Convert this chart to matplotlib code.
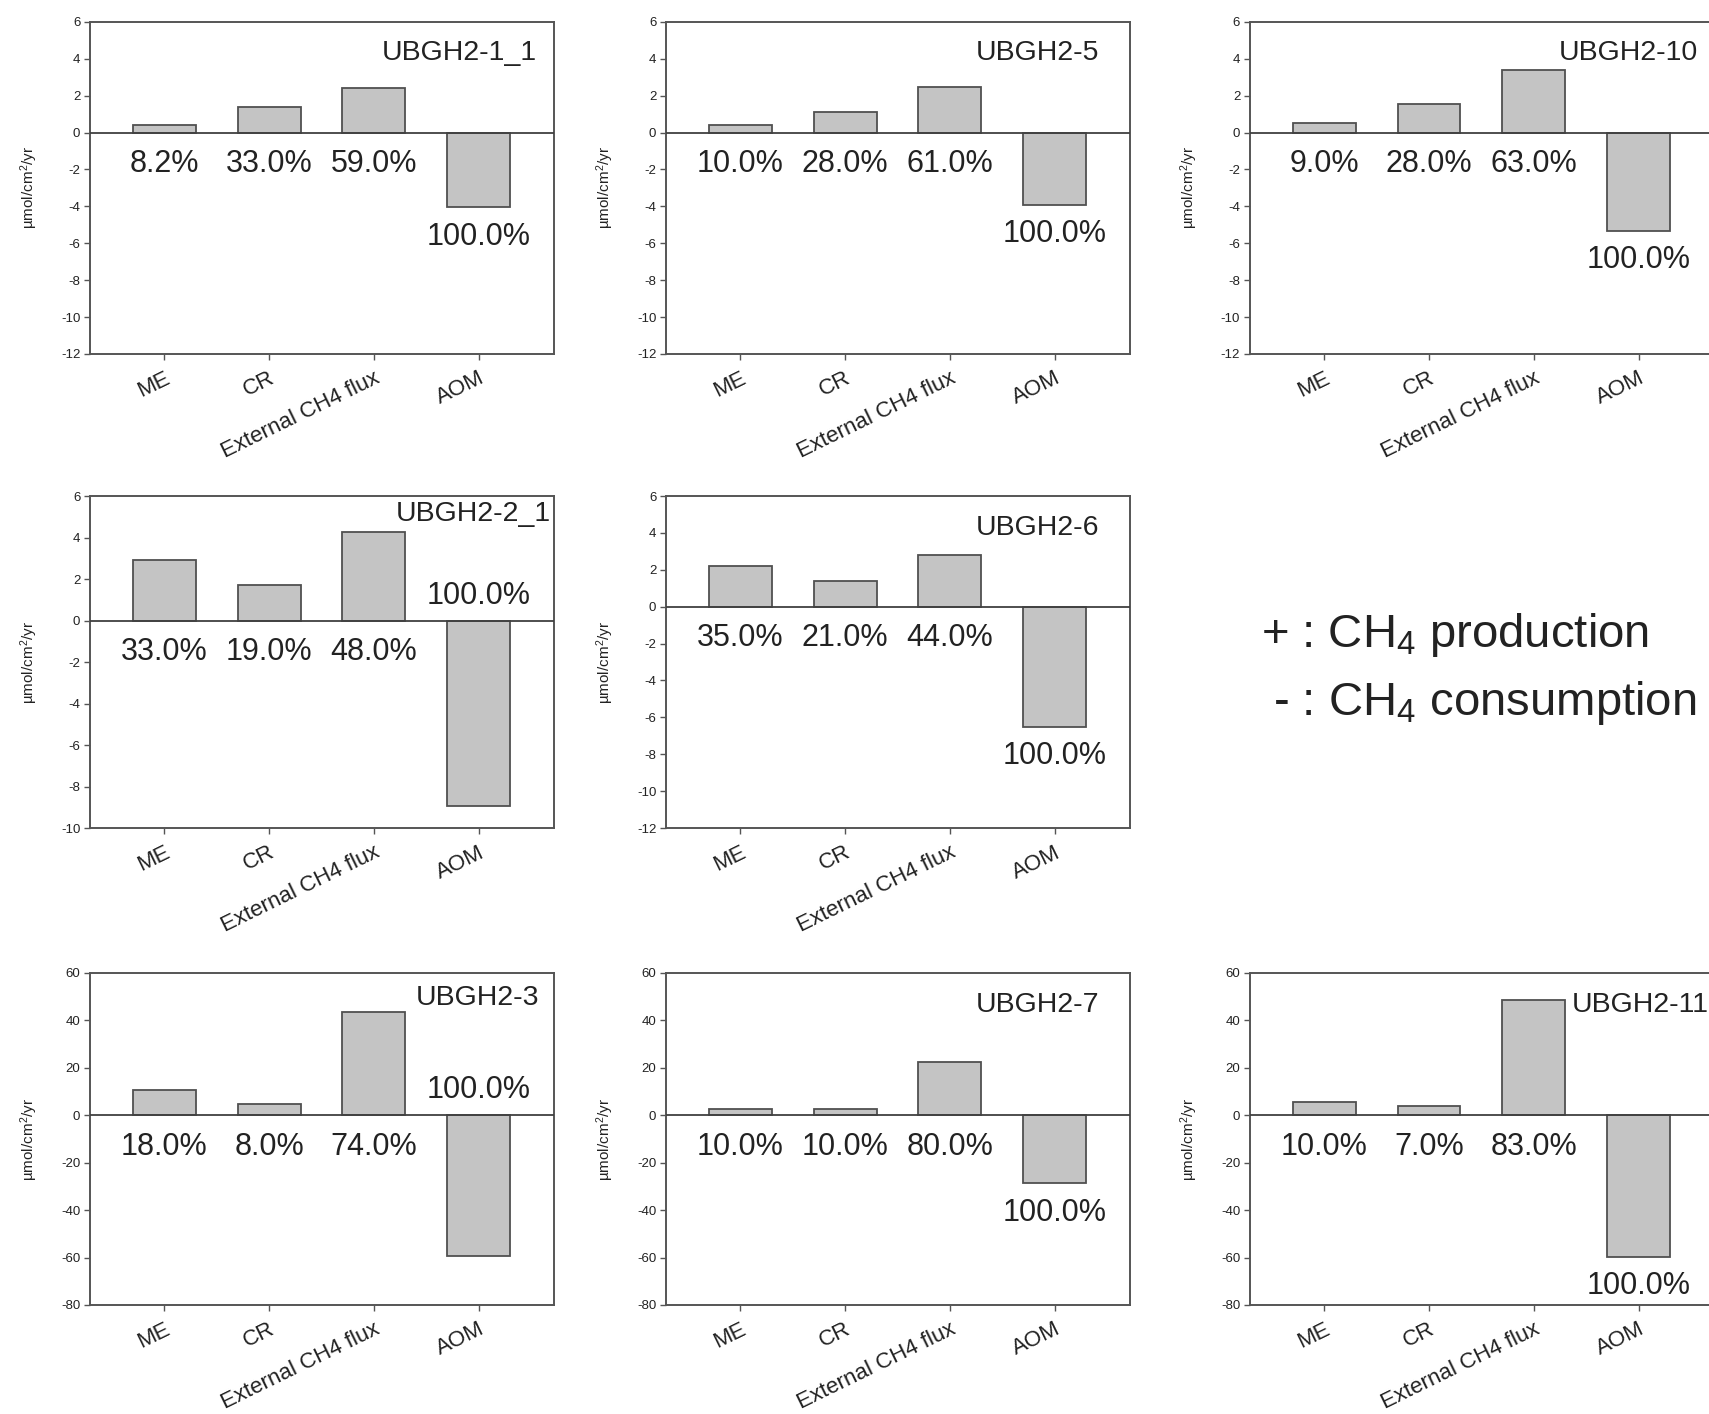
import matplotlib
matplotlib.use("Agg")
import matplotlib.pyplot as plt

plt.rcParams['font.family'] = ['Liberation Sans', 'DejaVu Sans']
plt.rcParams['mathtext.default'] = 'regular'
plt.rcParams['axes.unicode_minus'] = False

# --- CH4 budget per site (umol/cm2/yr) ---
processes = ["ME", "CR", "External CH4 flux", "AOM"]

sites = ["UBGH2-1_1", "UBGH2-5", "UBGH2-10",
         "UBGH2-2_1", "UBGH2-6", None,
         "UBGH2-3", "UBGH2-7", "UBGH2-11"]

flux_1_1 = [0.4, 1.4, 2.4, -4.05]
flux_5 = [0.41, 1.13, 2.46, -3.94]
flux_10 = [0.53, 1.55, 3.4, -5.35]
flux_2_1 = [2.93, 1.72, 4.29, -8.95]
flux_6 = [2.19, 1.38, 2.83, -6.5]
flux_3 = [10.7, 4.55, 43.4, -59.5]
flux_7 = [2.8, 2.8, 22.5, -28.7]
flux_11 = [5.7, 4.0, 48.8, -59.8]

share_1_1 = [8.2, 33.0, 59.0, 100.0]
share_5 = [10.0, 28.0, 61.0, 100.0]
share_10 = [9.0, 28.0, 63.0, 100.0]
share_2_1 = [33.0, 19.0, 48.0, 100.0]
share_6 = [35.0, 21.0, 44.0, 100.0]
share_3 = [18.0, 8.0, 74.0, 100.0]
share_7 = [10.0, 10.0, 80.0, 100.0]
share_11 = [10.0, 7.0, 83.0, 100.0]

fluxes = [flux_1_1, flux_5, flux_10, flux_2_1, flux_6, None, flux_3, flux_7, flux_11]
shares = [share_1_1, share_5, share_10, share_2_1, share_6, None, share_3, share_7, share_11]

y_limits = [(-12, 6), (-12, 6), (-12, 6),
            (-10, 6), (-12, 6), None,
            (-80, 60), (-80, 60), (-80, 60)]

# --- layout ---
col_left = [0.0527, 0.3897, 0.7314]
row_bottom = [0.7497, 0.4144, 0.0771]
ax_w, ax_h = 0.2715, 0.2348

# site name anchor (axes fraction, right aligned) and whether AOM label sits above zero
name_pos = [(0.962, 0.905), (0.934, 0.905), (0.965, 0.905),
            (0.993, 0.945), (0.934, 0.905), None,
            (0.968, 0.925), (0.934, 0.905), (0.988, 0.905)]
aom_above = [False, False, False, True, False, None, True, False, False]

bar_color = '#c4c4c4'
edge_color = '#505050'
text_color = '#222222'
spine_color = '#555555'

fig = plt.figure(figsize=(17.09, 14.14), dpi=100)

for i in range(9):
    if sites[i] is None:
        continue
    r, c = divmod(i, 3)
    ax = fig.add_axes([col_left[c], row_bottom[r], ax_w, ax_h])
    vals = fluxes[i]
    pct = shares[i]
    lo, hi = y_limits[i]
    span = hi - lo
    xs = range(len(processes))

    ax.bar(xs, vals, width=0.6, color=bar_color, edgecolor=edge_color, linewidth=1.3, zorder=2)
    ax.axhline(0, color='#404040', linewidth=1.3, zorder=3)

    ax.set_xlim(-0.71, 3.72)
    ax.set_ylim(lo, hi)
    step = 2 if span < 50 else 20
    ax.set_yticks(range(lo, hi + 1, step))
    ax.set_xticks(list(xs))
    ax.set_xticklabels(processes, rotation=26, ha='right', rotation_mode='anchor',
                       fontsize=16, color=text_color)
    ax.tick_params(axis='y', labelsize=9.5, length=4, width=1, colors=spine_color,
                   labelcolor=text_color, direction='out', pad=3)
    ax.tick_params(axis='x', length=4, width=1, colors=spine_color,
                   labelcolor=text_color, direction='out', pad=6)
    for s in ax.spines.values():
        s.set_color(spine_color)
        s.set_linewidth(1.4)

    ax.set_ylabel('µmol/cm$^2$/yr', fontsize=11, color=text_color)
    ax.yaxis.set_label_coords(-0.108, 0.5)

    # percentage of each process in the budget
    for x, v, p in zip(xs, vals, pct):
        if v >= 0:
            y = -0.095 * span
        elif aom_above[i]:
            y = 0.075 * span
        else:
            y = v - 0.088 * span
        ax.text(x, y, f"{p:.1f}%", ha='center', va='center', fontsize=22, color=text_color)

    nx, ny = name_pos[i]
    ax.text(nx, ny, sites[i], transform=ax.transAxes, ha='right', va='center',
            fontsize=20.5, color=text_color)

fig.text(0.738, 0.551, '+ : CH$_4$ production', fontsize=34, color=text_color, va='center')
fig.text(0.745, 0.503, '- : CH$_4$ consumption', fontsize=34, color=text_color, va='center')

fig.savefig('out.png', dpi=100)
